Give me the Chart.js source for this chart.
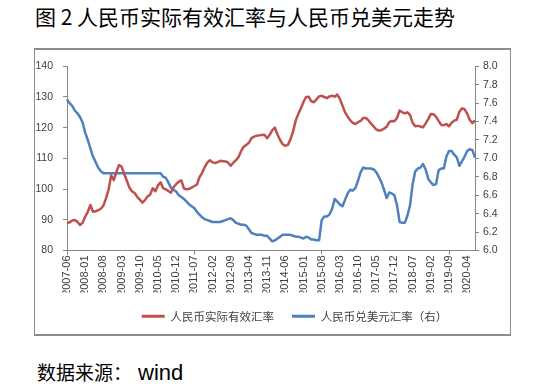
<!DOCTYPE html>
<html>
<head>
<meta charset="utf-8">
<script src="https://cdn.jsdelivr.net/npm/chart.js@4.4.0/dist/chart.umd.min.js"></script>
<style>
  body { margin: 0; background: #fff; width: 548px; height: 387px; overflow: hidden; position: relative;
         font-family: "Noto Sans CJK SC", sans-serif; color: #000; }
  #title { position: absolute; left: 35px; top: 3px; font-size: 21px; line-height: 26px; white-space: nowrap; }
  #frame { position: absolute; left: 34px; top: 48px; width: 475px; height: 284px;
           border: 1px solid #8c8c8c; border-top-width: 2px; border-bottom-width: 2px; }
  #wrap { position: absolute; left: 35px; top: 50px; width: 519px; height: 282px; }
  #source { position: absolute; left: 37px; top: 359px; font-size: 19px; line-height: 26px; white-space: nowrap; }
  #source span { font-family: "Liberation Sans", sans-serif; font-size: 22px; margin-left: 6px; }
</style>
</head>
<body>
<div id="title">图 2 人民币实际有效汇率与人民币兑美元走势</div>
<div id="frame"></div>
<div id="wrap"><canvas id="c" width="519" height="282"></canvas></div>
<div id="source">数据来源：<span>wind</span></div>
<script>
// monthly, 2007-06 .. 2020-07
const months = [];
for (let y = 2007, m = 6; y < 2020 || (y === 2020 && m <= 7); m++) {
  if (m > 12) { m = 1; y++; }
  months.push(y + '-' + String(m).padStart(2, '0'));
}

const tickLabels = ['2007-06', '2008-01', '2008-08', '2009-03', '2009-10', '2010-05', '2010-12',
  '2011-07', '2012-02', '2012-09', '2013-04', '2013-11', '2014-06', '2015-01', '2015-08',
  '2016-03', '2016-10', '2017-05', '2017-12', '2018-07', '2019-02', '2019-09', '2020-04'];

// 人民币实际有效汇率 (left axis)
const reer = [
  88.9, 89.2, 89.8, 89.9, 89.4, 88.3, 89.0, 91.0, 92.6, 94.8, 92.6, 92.8,
  93.1, 93.6, 94.6, 97.0, 99.8, 104.5, 102.9, 105.5, 107.8, 107.3, 105.0, 102.8,
  100.5, 99.3, 98.7, 97.5, 96.6, 95.6, 96.4, 97.6, 98.2, 100.3, 99.3, 101.2,
  102.2, 100.3, 99.9, 99.4, 98.8, 100.6, 101.6, 102.4, 102.8, 100.2, 99.9, 100.1,
  100.5, 101.0, 101.5, 103.9, 105.3, 107.2, 108.6, 109.4, 108.7, 108.5, 108.8, 109.2,
  109.1, 109.0, 108.6, 107.6, 108.6, 109.4, 110.4, 112.4, 113.8, 114.4, 115.1, 116.6,
  117.1, 117.4, 117.5, 117.6, 117.7, 116.6, 117.7, 119.2, 120.0, 117.8, 116.0, 114.6,
  114.1, 114.4, 116.2, 118.8, 122.3, 124.5, 126.3, 128.4, 130.0, 130.1, 128.6, 128.3,
  129.2, 130.2, 130.4, 130.0, 129.6, 130.2, 130.4, 130.1, 130.8, 129.4, 127.2, 125.0,
  123.6, 122.4, 121.6, 121.2, 121.8, 122.2, 123.2, 123.2, 122.4, 121.3, 120.4, 119.4,
  119.1, 119.2, 119.7, 120.3, 121.8, 122.2, 122.1, 123.2, 125.6, 125.0, 124.7, 125.0,
  124.2, 121.6, 120.5, 120.6, 120.4, 120.1, 121.4, 122.8, 124.5, 124.4, 123.6, 122.2,
  120.9, 120.8, 121.2, 120.5, 121.6, 122.3, 122.6, 125.2, 126.3, 126.0, 124.6, 122.5,
  121.5, 122.4
];

// 人民币兑美元汇率 (right axis)
const usdcny = [
  7.64, 7.60, 7.57, 7.52, 7.49, 7.45, 7.39, 7.28, 7.20, 7.11, 7.02, 6.96,
  6.90, 6.86, 6.84, 6.84, 6.84, 6.84, 6.84, 6.84, 6.84, 6.84, 6.84, 6.84,
  6.84, 6.84, 6.84, 6.84, 6.84, 6.84, 6.84, 6.84, 6.84, 6.84, 6.84, 6.84,
  6.84, 6.80, 6.79, 6.74, 6.68, 6.66, 6.64, 6.60, 6.58, 6.56, 6.53, 6.50,
  6.48, 6.46, 6.42, 6.39, 6.36, 6.34, 6.33, 6.32, 6.31, 6.31, 6.31, 6.31,
  6.32, 6.33, 6.34, 6.35, 6.33, 6.30, 6.29, 6.28, 6.28, 6.27, 6.23, 6.19,
  6.18, 6.17, 6.17, 6.17, 6.16, 6.16, 6.13, 6.10, 6.11, 6.13, 6.15, 6.17,
  6.17, 6.17, 6.17, 6.16, 6.15, 6.15, 6.14, 6.13, 6.15, 6.14, 6.12, 6.12,
  6.11, 6.11, 6.33, 6.37, 6.37, 6.39, 6.45, 6.56, 6.53, 6.50, 6.48, 6.55,
  6.62, 6.66, 6.65, 6.68, 6.76, 6.85, 6.90, 6.89, 6.89, 6.89, 6.88, 6.85,
  6.80, 6.74, 6.66, 6.57, 6.63, 6.62, 6.60, 6.49, 6.31, 6.30, 6.30, 6.38,
  6.49, 6.72, 6.86, 6.89, 6.90, 6.94, 6.88, 6.78, 6.74, 6.71, 6.72, 6.87,
  6.89, 6.89, 7.02, 7.08, 7.08, 7.04, 7.01, 6.92, 6.97, 7.02, 7.08, 7.10,
  7.09, 7.01
];

const axisColor = '#868686';
const tickFont = { family: 'Liberation Sans', size: 10.5 };

const chart = new Chart(document.getElementById('c').getContext('2d'), {
  type: 'line',
  data: {
    labels: months,
    datasets: [
      {
        label: '人民币实际有效汇率',
        data: reer,
        yAxisID: 'y',
        borderColor: '#c0504d',
        backgroundColor: '#c0504d',
        borderWidth: 2.5,
        pointRadius: 0,
        borderJoinStyle: 'round'
      },
      {
        label: '人民币兑美元汇率（右）',
        data: usdcny,
        yAxisID: 'y1',
        borderColor: '#4f81bd',
        backgroundColor: '#4f81bd',
        borderWidth: 2.5,
        pointRadius: 0,
        borderJoinStyle: 'round'
      }
    ]
  },
  options: {
    responsive: false,
    animation: false,
    layout: { padding: { top: 8, left: 0, right: 0, bottom: 0 } },
    plugins: {
      tooltip: { enabled: false },
      legend: {
        position: 'bottom',
        labels: {
          boxWidth: 23,
          boxHeight: 3,
          padding: 18,
          color: '#404040',
          font: { family: 'Noto Sans CJK SC', size: 11.5 },
          generateLabels: c => Chart.defaults.plugins.legend.labels.generateLabels(c)
            .map(l => Object.assign(l, { lineWidth: 0 }))
        }
      }
    },
    scales: {
      x: {
        grid: {
          drawOnChartArea: false,
          tickLength: 4,
          color: axisColor,
          tickColor: c => tickLabels.includes(months[c.index]) ? axisColor : 'rgba(0,0,0,0)'
        },
        border: { color: axisColor },
        ticks: {
          autoSkip: false,
          minRotation: 90,
          maxRotation: 90,
          padding: 1,
          color: '#404040',
          font: { family: 'Liberation Sans', size: 11 },
          callback: (v, i) => tickLabels.includes(months[i]) ? months[i] : null
        },
        afterFit: s => { s.height = 42; }
      },
      y: {
        position: 'left',
        min: 80,
        max: 140,
        grid: { drawOnChartArea: false, tickLength: 4, color: axisColor },
        border: { color: axisColor },
        ticks: { stepSize: 10, padding: 10, color: '#404040', font: tickFont },
        afterFit: s => { s.width = 32; }
      },
      y1: {
        position: 'right',
        min: 6,
        max: 8,
        grid: { drawOnChartArea: false, tickLength: 4, color: axisColor },
        border: { color: axisColor },
        ticks: { stepSize: 0.2, padding: 4, color: '#404040', font: tickFont,
                 callback: v => v.toFixed(1) },
        afterFit: s => { s.width = 79; }
      }
    }
  }
});
</script>
</body>
</html>
